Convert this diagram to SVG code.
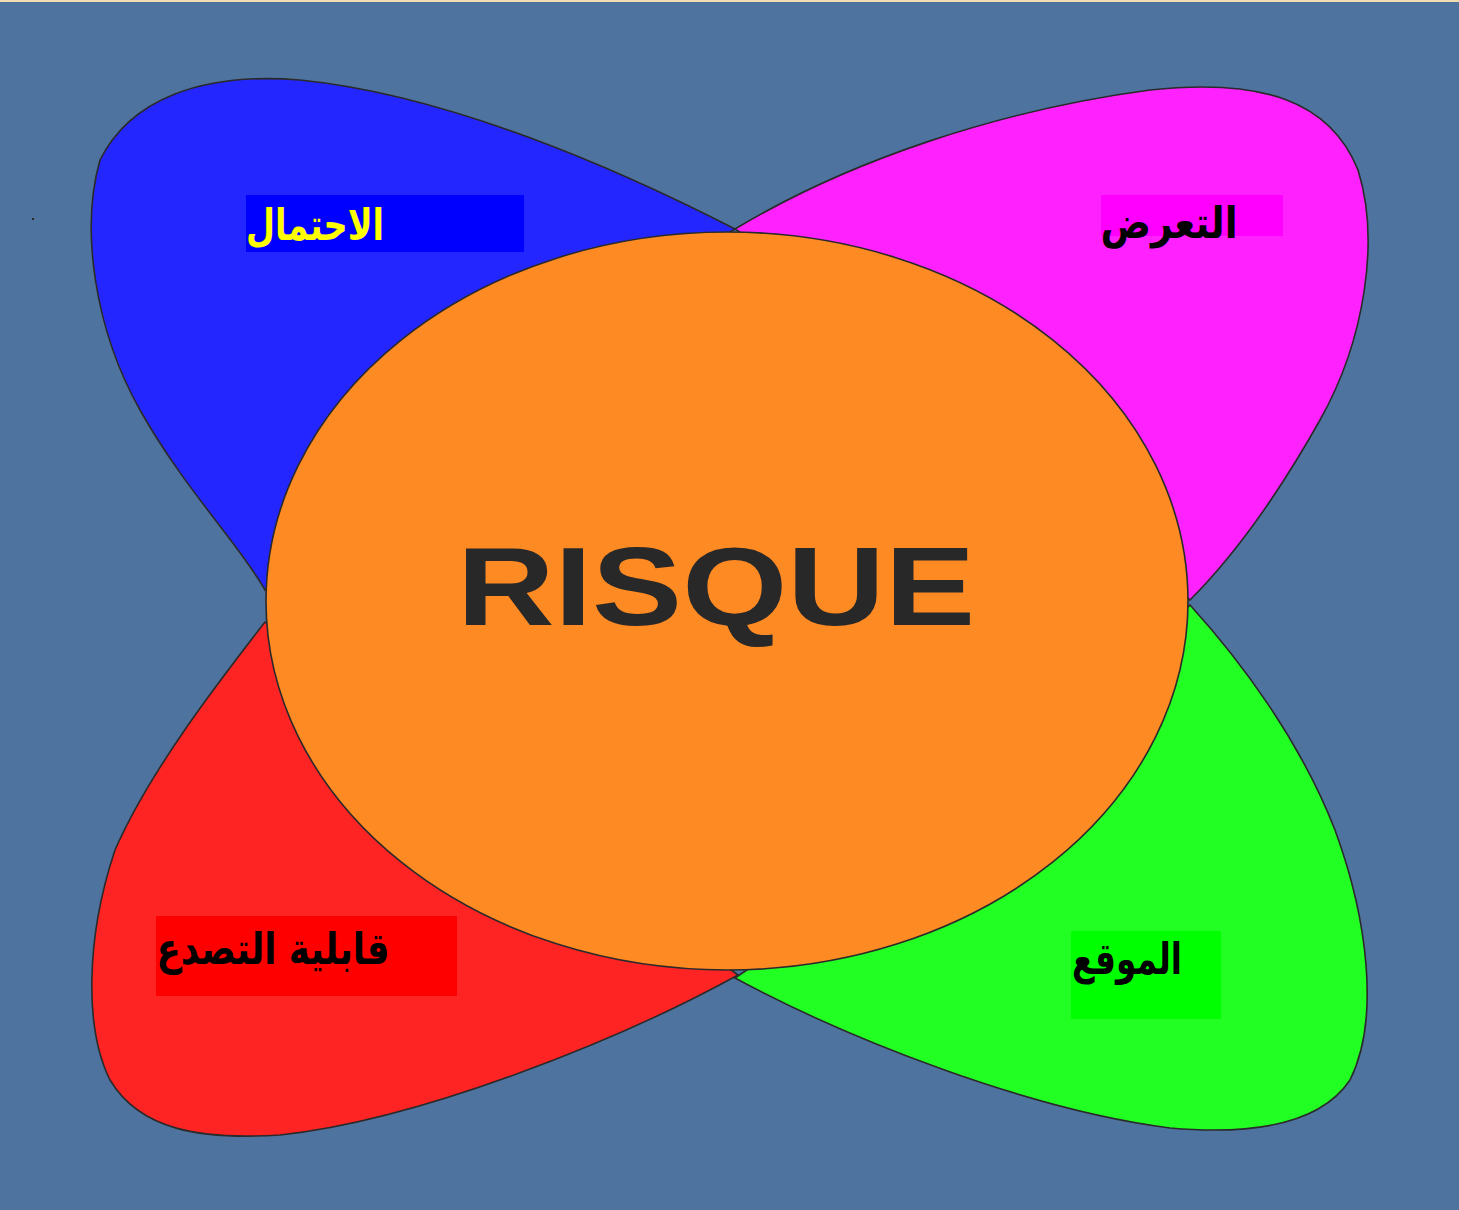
<svg xmlns="http://www.w3.org/2000/svg" width="1459" height="1210" viewBox="0 0 1459 1210">
<style>
.petal{stroke:#2a2a2a;stroke-width:1.6}
.lbl{font-family:"DejaVu Sans","Noto Sans",sans-serif;font-weight:bold;font-size:44px;text-anchor:middle}
</style>
<rect width="1459" height="1210" fill="#4E739F"/>
<rect width="1459" height="2" fill="#F2DDB0"/>
<rect x="32" y="218" width="2" height="2" fill="#2a2a2a"/>
<g id="petal-blue">
<path class="petal" fill="#2426FF" d="M735,229 C620,170 450,95 300,80 C200,72 130,100 100,160 C80,230 95,330 140,410 C185,490 240,545 265,590 L420,420 Z"/>
<rect x="246" y="195" width="278" height="57" fill="#0000FF"/>
<text class="lbl" x="315" y="240" fill="#FFFF00" textLength="138" lengthAdjust="spacingAndGlyphs">الاحتمال</text>
</g>
<g id="petal-magenta">
<path class="petal" fill="#FF22FF" d="M735,229 C850,160 1000,110 1150,90 C1260,78 1330,100 1358,170 C1380,240 1365,340 1320,420 C1275,500 1230,560 1190,600 L1000,400 Z"/>
<rect x="1101" y="195" width="182" height="41" fill="#FF00FF"/>
<text class="lbl" x="1169" y="238" fill="#000" textLength="137" lengthAdjust="spacingAndGlyphs">التعرض</text>
</g>
<g id="petal-red">
<path class="petal" fill="#FF2424" d="M265,622 C220,680 150,770 115,850 C85,940 85,1030 110,1080 C140,1130 200,1140 280,1135 C420,1120 620,1040 738,975 L500,800 Z"/>
<rect x="156" y="916" width="301" height="80" fill="#FF0000"/>
<text class="lbl" x="273" y="964" fill="#000" textLength="233" lengthAdjust="spacingAndGlyphs">قابلية التصدع</text>
</g>
<g id="petal-green">
<path class="petal" fill="#22FF22" d="M1190,605 C1240,660 1300,740 1335,830 C1368,920 1380,1020 1350,1080 C1320,1125 1250,1135 1170,1128 C1030,1110 850,1040 735,978 L1000,800 Z"/>
<rect x="1071" y="931" width="150" height="88" fill="#00FF00"/>
<text class="lbl" x="1127" y="974" fill="#000" textLength="110" lengthAdjust="spacingAndGlyphs">الموقع</text>
</g>
<g id="risque">
<ellipse cx="727" cy="601" rx="461" ry="369" fill="#FE8A24" stroke="#2a2a2a" stroke-width="1.6"/>
<text x="716" y="625" font-family="'Liberation Sans',Arial,sans-serif" font-weight="bold" font-size="112" fill="#282828" text-anchor="middle" textLength="518" lengthAdjust="spacingAndGlyphs">RISQUE</text>
</g>
<g id="connectors"/>
</svg>
